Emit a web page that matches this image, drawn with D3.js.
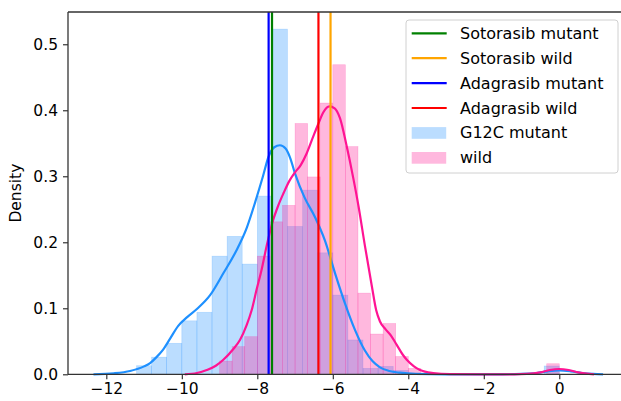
<!DOCTYPE html>
<html>
<head>
<meta charset="utf-8">
<script src="https://cdn.jsdelivr.net/npm/d3@7"></script>
<style>
  html, body { margin: 0; padding: 0; background: #fff; }
  svg { display: block; }
  text { font-family: "DejaVu Sans", sans-serif; }
</style>
</head>
<body>
<svg id="chart" width="621" height="401"></svg>
<script>
// ---- data ----
const mutantBinStart = -11.2;
const mutantBinWidth = 0.4;
const mutantHist = [0.013, 0.026, 0.047, 0.081, 0.094, 0.179, 0.209, 0.167, 0.27, 0.523,
  0.224, 0.279, 0.184, 0.12, 0.052, 0.009, 0.012, 0.006, 0, 0, 0, 0, 0, 0, 0, 0, 0, 0.0126];

const wildBinStart = -9.0;
const wildBinWidth = 1 / 3;
const wildHist = [0.020, 0.042, 0.057, 0.179, 0.231, 0.256, 0.380, 0.299, 0.411, 0.469,
  0.345, 0.123, 0.061, 0.077, 0.027, 0.009, 0, 0, 0, 0, 0, 0, 0, 0, 0, 0, 0.016];

const mutantKdeX = [-12.34, -11.8, -11.37, -11.0, -10.84, -10.67, -10.5, -10.31, -10.1, -9.85, -9.6, -9.25,
  -8.9, -8.55, -8.28, -8.05, -7.85, -7.7, -7.55, -7.4, -7.25, -7.13, -7.0, -6.75, -6.47, -6.21, -5.94,
  -5.68, -5.41, -5.15, -4.95, -4.75, -4.5, -4.22, -3.8, -3.0, -1.5, -1.0, -0.6, -0.3, 0.0, 0.3, 0.6, 0.9, 1.16];
const mutantKdeY = [0, 0.0015, 0.005, 0.012, 0.017, 0.026, 0.037, 0.054, 0.073, 0.087, 0.099, 0.12,
  0.153, 0.188, 0.222, 0.262, 0.3, 0.33, 0.344, 0.347, 0.342, 0.328, 0.304, 0.268, 0.238, 0.203, 0.153,
  0.108, 0.067, 0.036, 0.02, 0.0105, 0.005, 0.0024, 0.0006, 0, 0, 0.0005, 0.002, 0.0045, 0.0058, 0.0045, 0.002, 0.0005, 0];

const wildKdeX = [-9.92, -9.6, -9.34, -9.1, -8.9, -8.64, -8.46, -8.28, -8.15, -8.02, -7.88, -7.75, -7.6,
  -7.45, -7.3, -7.15, -7.0, -6.85, -6.69, -6.52, -6.38, -6.25, -6.09, -5.95, -5.81, -5.63, -5.46, -5.32,
  -5.15, -4.97, -4.85, -4.75, -4.6, -4.45, -4.31, -4.15, -4.04, -3.85, -3.69, -3.34, -2.9, -2.0, -1.2,
  -0.86, -0.5, -0.25, 0.0, 0.25, 0.5, 0.92];
const wildKdeY = [0, 0.002, 0.0065, 0.013, 0.022, 0.038, 0.052, 0.075, 0.097, 0.128, 0.16, 0.195, 0.23,
  0.255, 0.275, 0.293, 0.306, 0.317, 0.335, 0.36, 0.38, 0.397, 0.406, 0.403, 0.388, 0.345, 0.298, 0.255,
  0.195, 0.135, 0.097, 0.08, 0.068, 0.058, 0.045, 0.03, 0.022, 0.012, 0.0065, 0.002, 0.0003, 0, 0,
  0.0005, 0.003, 0.0065, 0.008, 0.0065, 0.003, 0];

const vlineNames = ["Sotorasib mutant", "Sotorasib wild", "Adagrasib mutant", "Adagrasib wild"];
const vlineValues = [-7.61, -6.06, -7.70, -6.38];
const vlineColors = ["#008000", "#FFA500", "#0000FF", "#FF0000"];

const histNames = ["G12C mutant", "wild"];
const histColors = ["#1E90FF", "#FF1493"];

const xTicks = [-12, -10, -8, -6, -4, -2, 0];
const yTicks = [0.0, 0.1, 0.2, 0.3, 0.4, 0.5];
const yLabel = "Density";

// ---- layout ----
const svg = d3.select("#chart");
const mLeft = 68, mRight = 621, mTop = 12, mBottom = 374.3;
const x = d3.scaleLinear().domain([-13.015, 1.635]).range([mLeft, mRight]);
const y = d3.scaleLinear().domain([0, 0.5489]).range([mBottom, mTop]);

const plot = svg.append("g");

function drawHist(vals, start, width, color) {
  const bins = vals.map((v, i) => ({x0: start + i * width, x1: start + (i + 1) * width, v}));
  plot.append("g").selectAll("rect").data(bins.filter(d => d.v > 0)).join("rect")
    .attr("x", d => x(d.x0))
    .attr("width", d => x(d.x1) - x(d.x0))
    .attr("y", d => y(d.v))
    .attr("height", d => y(0) - y(d.v))
    .attr("fill", color).attr("fill-opacity", 0.3)
    .attr("stroke", color).attr("stroke-opacity", 0.25).attr("stroke-width", 0.6);
}
drawHist(mutantHist, mutantBinStart, mutantBinWidth, histColors[0]);
drawHist(wildHist, wildBinStart, wildBinWidth, histColors[1]);

const line = d3.line().x(d => x(d[0])).y(d => y(d[1])).curve(d3.curveMonotoneX);
plot.append("path").datum(mutantKdeX.map((v, i) => [v, mutantKdeY[i]]))
  .attr("d", line).attr("fill", "none").attr("stroke", histColors[0]).attr("stroke-width", 2.2);
plot.append("path").datum(wildKdeX.map((v, i) => [v, wildKdeY[i]]))
  .attr("d", line).attr("fill", "none").attr("stroke", histColors[1]).attr("stroke-width", 2.2);

plot.append("g").selectAll("line").data(vlineValues).join("line")
  .attr("x1", d => x(d)).attr("x2", d => x(d))
  .attr("y1", y.range()[1]).attr("y2", y.range()[0])
  .attr("stroke", (d, i) => vlineColors[i]).attr("stroke-width", 2.2);

// ---- axes ----
const xAxis = d3.axisBottom(x).tickValues(xTicks).tickSize(5).tickPadding(4)
  .tickFormat(d => d3.format("d")(d).replace("-", "\u2212"));
const gx = svg.append("g").attr("transform", `translate(0,${mBottom})`).call(xAxis);
gx.select(".domain").remove();
gx.selectAll("line").attr("stroke", "#222").attr("stroke-width", 1.1);
gx.selectAll("text").attr("font-size", 15.5).attr("fill", "#000").attr("font-family", "DejaVu Sans");

const yAxis = d3.axisLeft(y).tickValues(yTicks).tickSize(5).tickPadding(5).tickFormat(d3.format(".1f"));
const gy = svg.append("g").attr("transform", `translate(${mLeft},0)`).call(yAxis);
gy.select(".domain").remove();
gy.selectAll("line").attr("stroke", "#222").attr("stroke-width", 1.1);
gy.selectAll("text").attr("font-size", 15.5).attr("fill", "#000").attr("font-family", "DejaVu Sans");

// spines
svg.append("line").attr("x1", mLeft).attr("x2", mRight).attr("y1", mTop).attr("y2", mTop)
  .attr("stroke", "#333").attr("stroke-width", 1.3);
svg.append("line").attr("x1", mLeft).attr("x2", mRight).attr("y1", mBottom).attr("y2", mBottom)
  .attr("stroke", "#333").attr("stroke-width", 1.3);
svg.append("line").attr("x1", mLeft).attr("x2", mLeft).attr("y1", mTop).attr("y2", mBottom)
  .attr("stroke", "#333").attr("stroke-width", 1.3);

svg.append("text").attr("transform", `translate(16,${(mTop + mBottom) / 2}) rotate(-90)`)
  .attr("text-anchor", "middle").attr("dominant-baseline", "central")
  .attr("font-size", 15.5).text(yLabel);

// ---- legend ----
const lg = svg.append("g");
lg.append("rect").attr("x", 406).attr("y", 20).attr("width", 212).attr("height", 153)
  .attr("rx", 3).attr("fill", "#fff").attr("fill-opacity", 0.8)
  .attr("stroke", "#d0d0d0").attr("stroke-width", 1);
const rowY = i => 33.3 + i * 24.9;
vlineNames.forEach((n, i) => {
  lg.append("line").attr("x1", 411.7).attr("x2", 446.7).attr("y1", rowY(i)).attr("y2", rowY(i))
    .attr("stroke", vlineColors[i]).attr("stroke-width", 2.2);
  lg.append("text").attr("x", 460).attr("y", rowY(i)).attr("dominant-baseline", "central")
    .attr("font-size", 16).text(n);
});
histNames.forEach((n, j) => {
  const i = j + 4;
  lg.append("rect").attr("x", 411.7).attr("y", rowY(i) - 5.8).attr("width", 34.5).attr("height", 11.7)
    .attr("fill", histColors[j]).attr("fill-opacity", 0.3);
  lg.append("text").attr("x", 460).attr("y", rowY(i)).attr("dominant-baseline", "central")
    .attr("font-size", 16).text(n);
});
</script>
</body>
</html>
